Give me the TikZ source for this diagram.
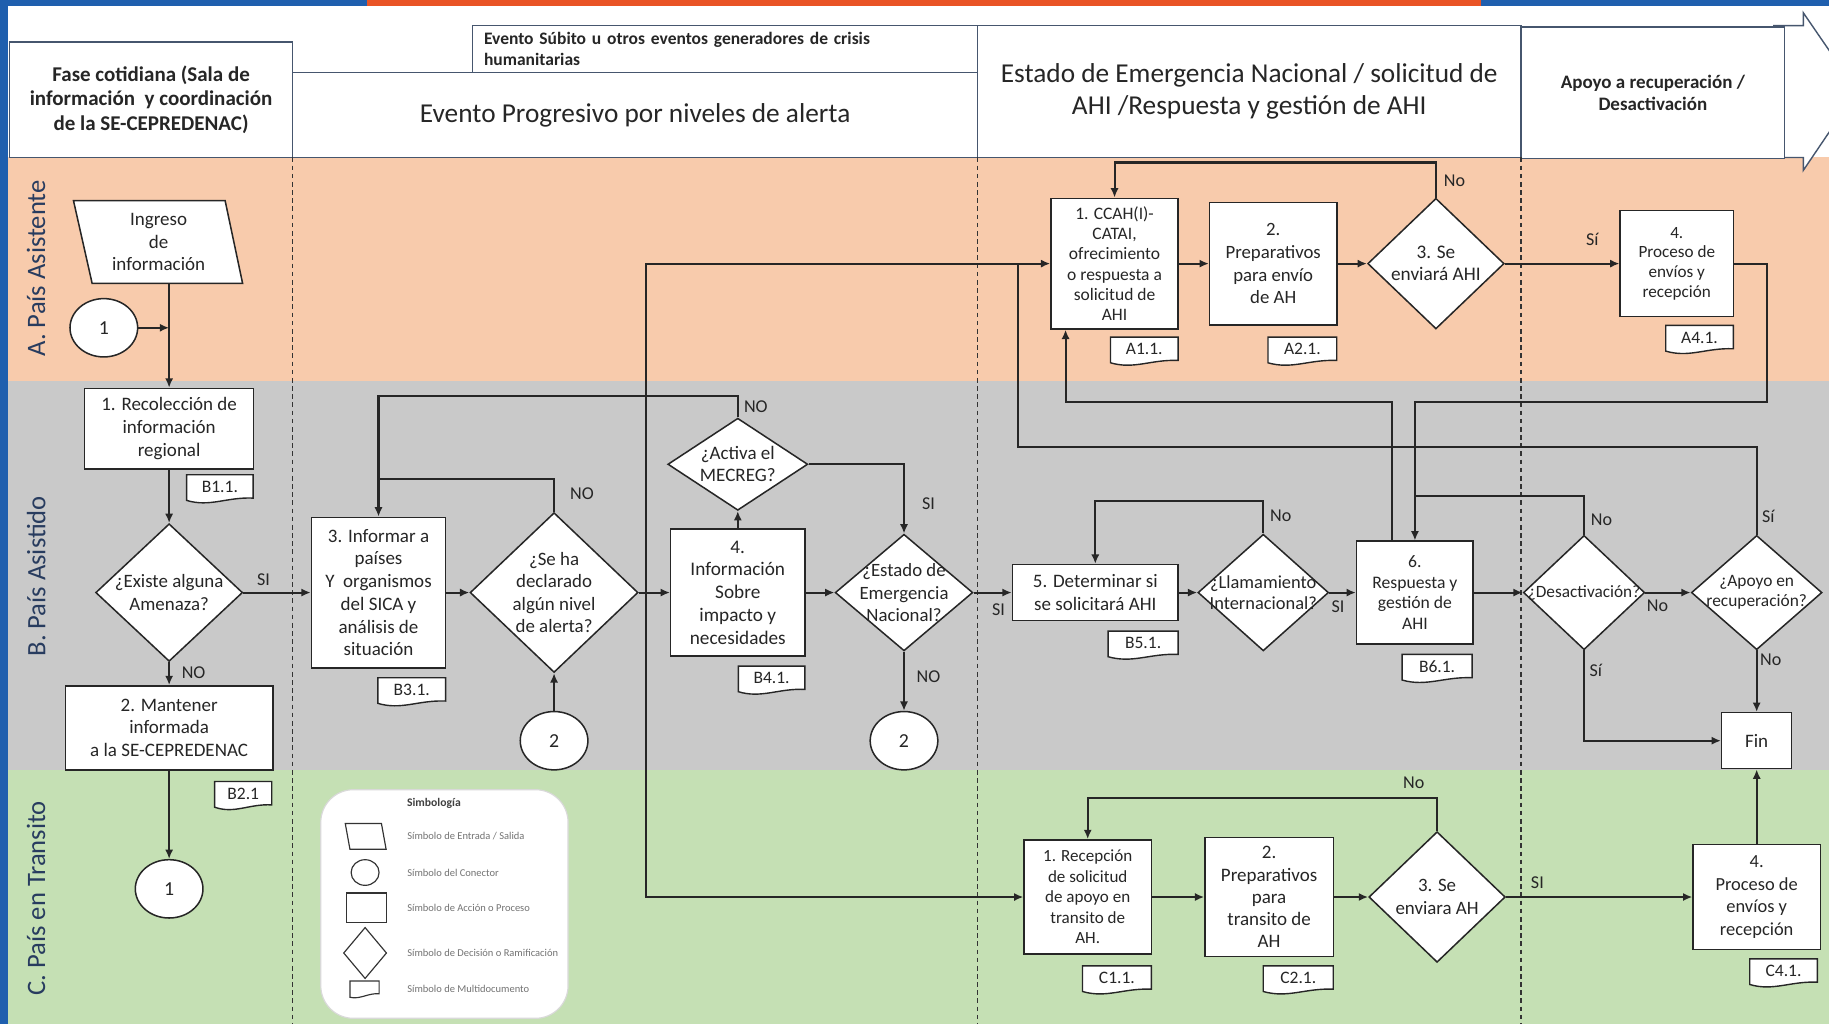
\documentclass[tikz,border=0pt]{standalone}
\usepackage{fontspec}
\setmainfont{Carlito}
\usetikzlibrary{shapes.geometric,arrows.meta,calc}
\definecolor{laneA}{RGB}{248,203,172}
\definecolor{laneB}{RGB}{201,201,201}
\definecolor{laneC}{RGB}{197,224,180}
\definecolor{bandblue}{RGB}{31,95,174}
\definecolor{bandorange}{RGB}{233,84,38}
\definecolor{hdrc}{RGB}{70,86,110}
\definecolor{txtc}{RGB}{38,38,38}
\definecolor{lanetxt}{RGB}{40,60,95}
\newcommand\myfs[2]{\fontsize{#1}{#2}\selectfont}
\newcommand\doctag[5]{%
  \draw[tagline] (#2,#3) -- ({#2+#4},#3) -- ({#2+#4},{#3+20}) .. controls ({#2+0.6*#4},{#3+19}) and ({#2+0.35*#4},{#3+28}) .. (#2,{#3+22}) -- cycle;
  \node[tagtxt] (#1) at ({#2+#4/2},{#3+10.5}) {#5};}
\begin{document}
\begin{tikzpicture}[x=1pt,y=-1pt,
  proc/.style={draw=black!85, line width=1.3pt, fill=white, align=center, text=txtc, inner sep=1pt, font=\myfs{16.3}{19.5}},
  dec/.style={diamond, draw=black!85, line width=1.3pt, fill=white, align=center, text=txtc, inner sep=-18pt, font=\myfs{16.2}{19.3}},
  conn/.style={ellipse, draw=black!85, line width=1.3pt, fill=white, minimum width=58pt, minimum height=50pt, text=txtc, font=\myfs{17}{20}},
  plaintxt/.style={align=center, text=txtc, inner sep=0pt},
  conline/.style={draw=black!85, line width=1.8pt},
  arr/.style={draw=black!85, line width=1.8pt, -{Latex[length=8pt,width=7pt]}},
  lbl/.style={text=txtc, font=\myfs{15.5}{18}, inner sep=0pt},
  tagline/.style={draw=black!85, line width=1.2pt, fill=white},
  tagtxt/.style={text=txtc, font=\myfs{15}{17}, inner sep=0pt},
  hdrbox/.style={draw=hdrc, line width=1.2pt, fill=white, align=center, text=black!85, inner sep=0pt},
  vdash/.style={draw=black!80, line width=1.2pt, dash pattern=on 4pt off 3pt},
  lanelbl/.style={rotate=90, font=\myfs{22.8}{26}, text=lanetxt, inner sep=0pt},
  legtxt/.style={anchor=west, text=black!55, font=\myfs{9}{10}, inner sep=0pt},
  legshape/.style={draw=black!80, line width=1pt, fill=white}
]
\useasboundingbox (0,0) rectangle (1568,878);
\clip (0,0) rectangle (1568,878);
% ---------- background ----------
\fill[white] (0,0) rectangle (1568,878);
\fill[laneA] (7,135) rectangle (1568,327);
\fill[laneB] (7,327) rectangle (1568,660);
\fill[laneC] (7,660) rectangle (1568,878);
\fill[bandblue] (0,0) rectangle (7,878);
\fill[bandblue] (0,0) rectangle (315,5);
\fill[bandorange] (315,0) rectangle (1270,5);
\fill[bandblue] (1270,0) rectangle (1568,5);
% ---------- header ----------
\draw[hdrc, line width=1.2pt, fill=white] (1520,22) -- (1546,22) -- (1546,11) -- (1592,78) -- (1546,146) -- (1546,135) -- (1520,135);
\node[hdrbox, minimum width=243pt, minimum height=99pt, font=\bfseries\myfs{18}{21}] (hfase) at (129.5,85.5) {Fase cotidiana (Sala de\\información\ \ y coordinación\\de la SE-CEPREDENAC)};
\node[hdrbox, minimum width=587pt, minimum height=73pt, font=\myfs{23.4}{27}] (hprog) at (544.5,98.5) {Evento Progresivo por niveles de alerta};
\node[hdrbox, minimum width=433pt, minimum height=40pt, text width=413pt, align=left, inner xsep=10pt, font=\bfseries\myfs{15}{18}] (hsub) at (621.5,42) {Evento Súbito u otros eventos generadores de crisis\\humanitarias};
\node[hdrbox, minimum width=466pt, minimum height=113pt, font=\myfs{23.4}{27}] (hest) at (1071,78.5) {Estado de Emergencia Nacional / solicitud de\\AHI /Respuesta y gestión de AHI};
\node[hdrbox, minimum width=226pt, minimum height=113pt, font=\bfseries\myfs{16.3}{19}] (hapo) at (1417,79.5) {Apoyo a recuperación /\\Desactivación};
\draw[hdrc, line width=1.2pt] (1530,22) -- (1530,135);
% ---------- phase separators ----------
\draw[vdash] (251,135) -- (251,878);
\draw[vdash] (838,135) -- (838,878);
\draw[vdash] (1304,135) -- (1304,878);
% ---------- lane labels ----------
\node[lanelbl] (la) at (31,230) {A. País Asistente};
\node[lanelbl] (lb) at (31,494) {B. País Asistido};
\node[lanelbl] (lc) at (31,770) {C. País en Transito};
% ---------- legend ----------
\node[draw=white!85!black, line width=1pt, fill=white, rounded corners=28pt, minimum width=212pt, minimum height=196pt] (leg) at (381,775) {};
\node[text=black!75, font=\bfseries\myfs{10}{11}, inner sep=0pt] (legt) at (372,689) {Simbología};
\draw[legshape] (296,706) -- (327,706) -- (331,728) -- (300,728) -- cycle;
\node[legtxt] (lt1) at (349,717) {Símbolo de Entrada / Salida};
\node[ellipse, legshape, minimum width=24pt, minimum height=22pt] (ls2) at (313,748) {};
\node[legtxt] (lt2) at (349,748) {Símbolo del Conector};
\node[rectangle, legshape, minimum width=34pt, minimum height=25pt] (ls3) at (314,778) {};
\node[legtxt] (lt3) at (349,778) {Símbolo de Acción o Proceso};
\node[diamond, legshape, minimum width=37pt, minimum height=44pt, inner sep=0pt] (ls4) at (313,817) {};
\node[legtxt] (lt4) at (349,817) {Símbolo de Decisión o Ramificación};
\draw[legshape] (300,841) -- (325,841) -- (325,852) .. controls (316,851) and (309,857) .. (300,855) -- cycle;
\node[legtxt] (lt5) at (349,848) {Símbolo de Multidocumento};
% ---------- tags ----------
\doctag{tB1}{160}{407}{57}{B1.1.}
\doctag{tB2}{184}{670}{49}{B2.1}
\doctag{tB3}{324}{581}{58}{B3.1.}
\doctag{tB4}{633}{571}{57}{B4.1.}
\doctag{tB5}{950}{541}{60}{B5.1.}
\doctag{tB6}{1202}{561}{60}{B6.1.}
\doctag{tA1}{952}{289}{58}{A1.1.}
\doctag{tA2}{1087}{289}{59}{A2.1.}
\doctag{tA4}{1428}{279}{58}{A4.1.}
\doctag{tC1}{928}{828}{59}{C1.1.}
\doctag{tC2}{1083}{828}{60}{C2.1.}
\doctag{tC4}{1500}{822}{58}{C4.1.}
% ---------- lane A (left) ----------
\draw[draw=black!85, line width=1.3pt, fill=white] (63,172) -- (193,172) -- (208,243) -- (79,243) -- cycle;
\node[plaintxt, minimum height=71pt, font=\myfs{16.3}{19.5}] (ing) at (136,207.5) {Ingreso\\de\\información};
\node[conn] (c1a) at (89,281) {1};
% ---------- lane B ----------
\node[proc, minimum width=145pt, minimum height=69pt] (b1) at (145,367.5) {1. Recolección de\\información\\regional};
\node[dec, minimum width=126pt, minimum height=118pt] (d1) at (145,508) {¿Existe alguna\\Amenaza?};
\node[proc, minimum width=178pt, minimum height=72pt] (b2) at (145,624) {2. Mantener\\informada\\a la SE-CEPREDENAC};
\node[conn] (c1b) at (145,762) {1};
\node[proc, minimum width=115pt, minimum height=129pt] (b3) at (324.5,508) {3. Informar a\\países\\Y\ \ organismos\\del SICA y\\análisis de\\situación};
\node[dec, minimum width=144pt, minimum height=137pt] (d2) at (475,508) {¿Se ha\\declarado\\algún nivel\\de alerta?};
\node[conn] (c2a) at (475,635) {2};
\node[proc, minimum width=115pt, minimum height=109pt, font=\myfs{16.5}{19.5}] (b4) at (632.5,508) {4.\\Información\\Sobre\\impacto y\\necesidades};
\node[dec, minimum width=120pt, minimum height=79pt, font=\myfs{16.3}{19}] (dm) at (632.5,398) {¿Activa el\\MECREG?};
\node[dec, minimum width=118pt, minimum height=100pt, font=\myfs{16.1}{19}] (d3) at (775,508) {¿Estado de\\Emergencia\\Nacional?};
\node[conn] (c2b) at (775,635) {2};
\node[proc, minimum width=142pt, minimum height=48pt] (b5) at (939,508) {5. Determinar si\\se solicitará AHI};
\node[dec, minimum width=112pt, minimum height=100pt, font=\myfs{15.8}{18}] (d4) at (1083,508) {¿Llamamiento\\Internacional?};
\node[proc, minimum width=100pt, minimum height=88pt, font=\myfs{15.1}{17.5}] (b6) at (1213,508) {6.\\Respuesta y\\gestión de\\AHI};
\node[dec, minimum width=104pt, minimum height=98pt, font=\myfs{14.8}{17}] (dd) at (1358,508) {¿Desactivación?};
\node[dec, minimum width=112pt, minimum height=98pt, font=\myfs{14.9}{17.5}] (da) at (1506,508) {¿Apoyo en\\recuperación?};
\node[proc, minimum width=60pt, minimum height=48pt] (fin) at (1506,635) {Fin};
% ---------- lane A (right) ----------
\node[proc, minimum width=109pt, minimum height=112pt, font=\myfs{15}{17.2}] (a1) at (955.5,226) {1. CCAH(I)-\\CATAI,\\ofrecimiento\\o respuesta a\\solicitud de\\AHI};
\node[proc, minimum width=109pt, minimum height=105pt, font=\myfs{16.1}{19.5}] (a2) at (1091.5,226) {2.\\Preparativos\\para envío\\de AH};
\node[dec, minimum width=117pt, minimum height=112pt, font=\myfs{16.5}{19}] (dA) at (1231,226) {3. Se\\enviará AHI};
\node[proc, minimum width=97pt, minimum height=91pt, font=\myfs{14.7}{17}] (a4) at (1437.5,226) {4.\\Proceso de\\envíos y\\recepción};
% ---------- lane C ----------
\node[proc, minimum width=109pt, minimum height=98pt, font=\myfs{14.6}{17.5}] (cc1) at (932.5,769) {1. Recepción\\de solicitud\\de apoyo en\\transito de\\AH.};
\node[proc, minimum width=110pt, minimum height=102pt, font=\myfs{16.3}{19}] (cc2) at (1088,769) {2.\\Preparativos\\para\\transito de\\AH};
\node[dec, minimum width=117pt, minimum height=112pt, font=\myfs{16.2}{19}] (dC) at (1232,769) {3. Se\\enviara AH};
\node[proc, minimum width=109pt, minimum height=90pt, font=\myfs{15.8}{19.5}] (cc4) at (1506,769) {4.\\Proceso de\\envíos y\\recepción};
% ---------- junction coordinates ----------
\coordinate (j0) at (b1.north |- c1a.east);
\coordinate (jb3) at (324.5,411);
\coordinate (j1) at (554,508);
\coordinate (j2) at (873,226);
\coordinate (j3) at (1213,425);
% ---------- connectors ----------
\draw[arr] (ing.south -| b1.north) -- (b1.north);
\draw[arr] (c1a.east) -- (j0);
\draw[arr] (b1.south) -- (d1.north);
\draw[arr] (d1.east) -- (b3.west);
\draw[arr] (d1.south) -- (b2.north);
\draw[arr] (b2.south) -- (c1b.north);
\draw[arr] (b3.east) -- (d2.west);
\draw[arr] (d2.north) |- (jb3) -- (b3.north);
\draw[arr] (c2a.north) -- (d2.south);
\draw[arr] (d2.east) -- (b4.west);
\draw[arr] (b4.north) -- (dm.south);
\draw[conline] (dm.north) -- ++(0,-18) -| (jb3);
\draw[arr] (dm.east) -| (d3.north);
\draw[arr] (b4.east) -- (d3.west);
\draw[arr] (d3.south) -- (c2b.north);
\draw[arr] (d3.east) -- (b5.west);
\draw[arr] (b5.east) -- (d4.west);
\draw[arr] (d4.north) -- ++(0,-28) -| (b5.north);
\draw[arr] (d4.east) -- (b6.west);
\draw[arr] (b6.east) -- (dd.west);
\draw[arr] (dd.east) -- (da.west);
\draw[arr] (da.south) -- (fin.north);
\draw[arr] (dd.south) |- (fin.west);
\draw[conline] (dd.north) |- (j3);
\draw[arr] (j1) |- (a1.west);
\draw[arr] (j1) |- (cc1.west);
\draw[arr] (a1.east) -- (a2.west);
\draw[arr] (a2.east) -- (dA.west);
\draw[arr] (dA.north) -- ++(0,-30) -| (a1.north);
\draw[arr] (dA.east) -- (a4.west);
\draw[arr] (a4.east) -| (1515,345) -| (b6.north);
\draw[arr] ($(b6.north)+(-20,0)$) -- ++(0,-119) -| ($(a1.south)+(-42,0)$);
\draw[conline] (da.north) -- ++(0,-75) -| (j2);
\draw[arr] (cc1.east) -- (cc2.west);
\draw[arr] (cc2.east) -- (dC.west);
\draw[arr] (dC.north) -- ++(0,-28) -| (cc1.north);
\draw[arr] (dC.east) -- (cc4.west);
\draw[arr] (cc4.north) -- (fin.south);
% ---------- connector labels ----------
\node[lbl] (lsi1) at (226,497) {SI};
\node[lbl] (lno1) at (166,577) {NO};
\node[lbl] (lno2) at (499,423) {NO};
\node[lbl] (lno3) at (648,349) {NO};
\node[lbl] (lsi2) at (796,432) {SI};
\node[lbl] (lno4) at (796,580) {NO};
\node[lbl] (lsi3) at (856,523) {SI};
\node[lbl] (lno5) at (1098,442) {No};
\node[lbl] (lsi4) at (1147,520) {SI};
\node[lbl] (lno6) at (1373,446) {No};
\node[lbl] (lsi5) at (1516,443) {Sí};
\node[lbl] (lno7) at (1421,519) {No};
\node[lbl] (lsi6) at (1368,575) {Sí};
\node[lbl] (lno8) at (1518,566) {No};
\node[lbl] (lno9) at (1247,155) {No};
\node[lbl] (lsi7) at (1365,205) {Sí};
\node[lbl] (lno10) at (1212,671) {No};
\node[lbl] (lsi8) at (1318,757) {SI};
\end{tikzpicture}
\end{document}
